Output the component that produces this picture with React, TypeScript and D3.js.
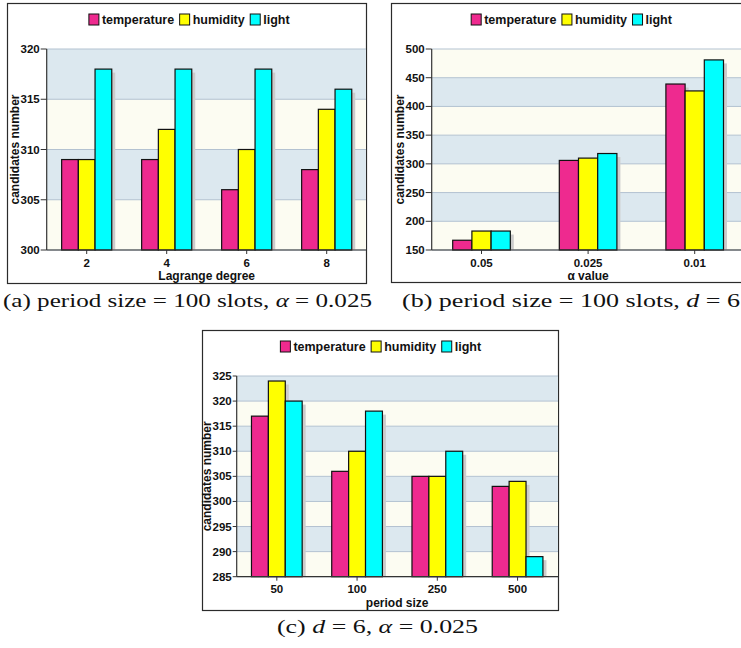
import React, { useEffect, useRef } from "react";
import * as d3 from "d3";

// ---------- data ----------
const seriesNames = ["temperature", "humidity", "light"];
const seriesColors = ["#ee2a8f", "#ffff00", "#00ffff"];

const catsA = ["2", "4", "6", "8"];
const tempA = [309, 309, 306, 308];
const humA = [309, 312, 310, 314];
const lightA = [318, 318, 318, 316];

const catsB = ["0.05", "0.025", "0.01"];
const tempB = [167, 306, 439];
const humB = [183, 310, 427];
const lightB = [183, 318, 481];

const catsC = ["50", "100", "250", "500"];
const tempC = [317, 306, 305, 303];
const humC = [324, 310, 305, 304];
const lightC = [320, 318, 310, 289];

const yTicksA = [300, 305, 310, 315, 320];
const yTicksB = [150, 200, 250, 300, 350, 400, 450, 500];
const yTicksC = [285, 290, 295, 300, 305, 310, 315, 320, 325];

const FONT = "'Liberation Sans', Arial, sans-serif";
const BLUE = "#dce8ef";
const CREAM = "#fcfcf2";
const GRID = "#b3c2d1";

interface PanelCfg {
  border: [number, number, number, number];
  plot: { left: number; top: number; right: number; bottom: number };
  xRange: [number, number];
  barW: number;
  cats: string[];
  series: number[][];
  yTicks: number[];
  xTitle: string;
  yTitleX: number;
  legendCx: number;
  legendY: number;
  tickLen: number;
}

function drawPanel(root: d3.Selection<SVGGElement, unknown, null, undefined>, cfg: PanelCfg) {
  const g = root.append("g");
  const [bx0, by0, bx1, by1] = cfg.border;
  g.append("rect")
    .attr("x", bx0 + 0.5).attr("y", by0 + 0.5)
    .attr("width", bx1 - bx0).attr("height", by1 - by0)
    .attr("fill", "#ffffff").attr("stroke", "#2b2b2b").attr("stroke-width", 1.2);

  const { left, top, right, bottom } = cfg.plot;
  const ticks = cfg.yTicks;
  const y = d3.scaleLinear().domain([ticks[0], ticks[ticks.length - 1]]).range([bottom, top]);
  const x = d3.scaleBand<string>().domain(cfg.cats).range(cfg.xRange);

  // bands
  for (let i = 0; i < ticks.length - 1; i++) {
    g.append("rect")
      .attr("x", left).attr("y", y(ticks[i + 1]))
      .attr("width", right - left).attr("height", y(ticks[i]) - y(ticks[i + 1]))
      .attr("fill", i % 2 === 0 ? CREAM : BLUE);
  }
  // grid
  ticks.forEach((t) => {
    g.append("line")
      .attr("x1", left).attr("x2", right)
      .attr("y1", y(t)).attr("y2", y(t))
      .attr("stroke", GRID).attr("stroke-width", 1);
  });

  const groupW = cfg.barW * 3;
  const barX = (c: string, s: number) => (x(c) as number) + x.bandwidth() / 2 - groupW / 2 + s * cfg.barW;
  // shadows
  cfg.series.forEach((vals, s) => {
    vals.forEach((v, i) => {
      const c = cfg.cats[i];
      g.append("rect")
        .attr("x", barX(c, s) + 3.5).attr("y", y(v) + 3.5)
        .attr("width", cfg.barW).attr("height", Math.max(0, bottom - y(v) - 3.5))
        .attr("fill", "#cccccc");
    });
  });
  // bars
  cfg.series.forEach((vals, s) => {
    vals.forEach((v, i) => {
      const c = cfg.cats[i];
      g.append("rect")
        .attr("x", barX(c, s)).attr("y", y(v))
        .attr("width", cfg.barW).attr("height", bottom - y(v))
        .attr("fill", seriesColors[s]).attr("stroke", "#111").attr("stroke-width", 1.2);
    });
  });

  // y axis
  g.append("line").attr("x1", left).attr("x2", left).attr("y1", top).attr("y2", bottom)
    .attr("stroke", "#333").attr("stroke-width", 1.2);
  ticks.forEach((t) => {
    g.append("line").attr("x1", left - cfg.tickLen).attr("x2", left)
      .attr("y1", y(t)).attr("y2", y(t)).attr("stroke", "#333");
    g.append("text").attr("x", left - cfg.tickLen - 1).attr("y", y(t))
      .attr("text-anchor", "end").attr("dominant-baseline", "central")
      .attr("font-family", FONT).attr("font-weight", "bold").attr("font-size", 11.5)
      .attr("fill", "#111").text(String(t));
  });
  // x axis
  g.append("line").attr("x1", left).attr("x2", right).attr("y1", bottom).attr("y2", bottom)
    .attr("stroke", "#333").attr("stroke-width", 1.2);
  cfg.cats.forEach((c) => {
    const cx = (x(c) as number) + x.bandwidth() / 2;
    g.append("line").attr("x1", cx).attr("x2", cx).attr("y1", bottom).attr("y2", bottom + 4)
      .attr("stroke", "#333");
    g.append("text").attr("x", cx).attr("y", bottom + 12.5)
      .attr("text-anchor", "middle").attr("dominant-baseline", "central")
      .attr("font-family", FONT).attr("font-weight", "bold").attr("font-size", 11.5)
      .attr("fill", "#111").text(c);
  });
  // titles
  const xMid = (cfg.xRange[0] + cfg.xRange[1]) / 2;
  g.append("text").attr("x", xMid).attr("y", bottom + 26)
    .attr("text-anchor", "middle").attr("dominant-baseline", "central")
    .attr("font-family", FONT).attr("font-weight", "bold").attr("font-size", 12)
    .attr("fill", "#111").text(cfg.xTitle);
  g.append("text")
    .attr("transform", `translate(${cfg.yTitleX},${(top + bottom) / 2}) rotate(-90)`)
    .attr("text-anchor", "middle").attr("dominant-baseline", "central")
    .attr("font-family", FONT).attr("font-weight", "bold").attr("font-size", 12)
    .attr("fill", "#111").text("candidates number");

  // legend
  const lg = g.append("g");
  let cur = 0;
  const sq = 11;
  seriesNames.forEach((name, s) => {
    lg.append("rect").attr("x", cur + 0.5).attr("y", cfg.legendY - sq / 2)
      .attr("width", sq - 1).attr("height", sq)
      .attr("fill", seriesColors[s]).attr("stroke", "#111").attr("stroke-width", 1);
    const t = lg.append("text").attr("x", cur + sq + 2.5).attr("y", cfg.legendY)
      .attr("dominant-baseline", "central")
      .attr("font-family", FONT).attr("font-weight", "bold").attr("font-size", 12.5)
      .attr("fill", "#111").text(name);
    const w = (t.node() as SVGTextElement).getComputedTextLength();
    cur += sq + 2.5 + w + 5;
  });
  const total = cur - 5;
  lg.attr("transform", `translate(${cfg.legendCx - total / 2},0)`);
}

export default function App() {
  const ref = useRef<SVGGElement>(null);
  useEffect(() => {
    const root = d3.select(ref.current as SVGGElement);
    root.selectAll("*").remove();

    drawPanel(root, {
      border: [7, 3, 366, 283],
      plot: { left: 46.7, top: 49, right: 366, bottom: 250 },
      xRange: [46.7, 366.7],
      barW: 16.7,
      cats: catsA,
      series: [tempA, humA, lightA],
      yTicks: yTicksA,
      xTitle: "Lagrange degree",
      yTitleX: 15,
      legendCx: 189,
      legendY: 19.5,
      tickLen: 6,
    });
    drawPanel(root, {
      border: [391, 3, 770, 282],
      plot: { left: 431.7, top: 49, right: 770, bottom: 250 },
      xRange: [428.2, 748],
      barW: 19.2,
      cats: catsB,
      series: [tempB, humB, lightB],
      yTicks: yTicksB,
      xTitle: "α value",
      yTitleX: 400,
      legendCx: 571.3,
      legendY: 19.5,
      tickLen: 6,
    });
    drawPanel(root, {
      border: [202, 330, 558, 610],
      plot: { left: 236.7, top: 376, right: 558, bottom: 576.7 },
      xRange: [236.7, 557.7],
      barW: 16.9,
      cats: catsC,
      series: [tempC, humC, lightC],
      yTicks: yTicksC,
      xTitle: "period size",
      yTitleX: 207,
      legendCx: 380.5,
      legendY: 346.5,
      tickLen: 4,
    });
  }, []);

  const cap = { fontFamily: "'Liberation Serif', 'Times New Roman', serif", fontSize: 19, fill: "#111" } as const;
  return (
    <svg width={741} height={648} style={{ position: "absolute", left: 0, top: 0, background: "#fff" }}>
      <g ref={ref} />
      <text x={3} y={307} textLength={369} lengthAdjust="spacingAndGlyphs" style={cap}>
        (a) period size = 100 slots, <tspan fontStyle="italic">α</tspan> = 0.025
      </text>
      <text x={402} y={307} textLength={338} lengthAdjust="spacingAndGlyphs" style={cap}>
        (b) period size = 100 slots, <tspan fontStyle="italic">d</tspan> = 6
      </text>
      <text x={277} y={633} textLength={201} lengthAdjust="spacingAndGlyphs" style={cap}>
        (c) <tspan fontStyle="italic">d</tspan> = 6, <tspan fontStyle="italic">α</tspan> = 0.025
      </text>
    </svg>
  );
}
